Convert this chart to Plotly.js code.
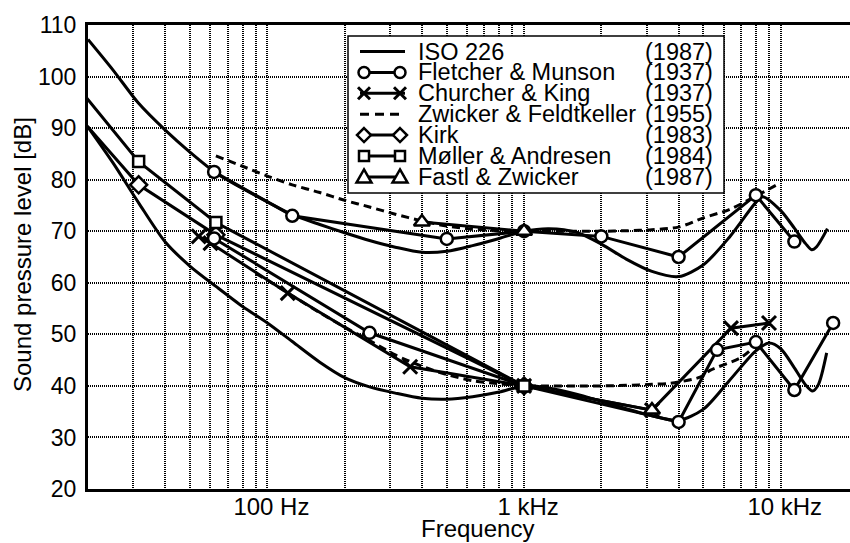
<!DOCTYPE html>
<html><head><meta charset="utf-8">
<script src="https://cdn.plot.ly/plotly-3.0.1.min.js"></script>
<style>html,body{margin:0;padding:0;overflow:hidden;background:#fff;width:850px;height:543px}#chart{width:860px;height:543px}</style>
</head><body><div id="chart"></div><script>
// ---------------- data (Hz, dB SPL) ----------------
const isoFreq70 = [20,25,31.5,40,50,63,80,100,125,160,200,250,315,400,500,630,800,1000,1250,1600,2000,2500,3150,4000,5000,6300,8000,8500,10000,11300,12500,13200,13800,15200];
const isoLvl70  = [107.2,101.3,94.8,89.6,85.3,81.3,78.3,75.7,73.2,71.3,69.7,68.2,66.9,65.9,66.1,67.2,68.6,70.0,70.5,69.8,67.5,64.6,62.2,61.2,63.5,68.8,75.6,76.7,74.0,70.6,67.6,66.4,67.0,70.5];
const isoFreq40 = [20,25,31.5,40,50,63,80,100,125,160,200,250,315,400,500,630,800,1000,1250,1600,2000,2500,3150,4000,5000,6300,8000,9000,10000,11300,12500,13300,14000,15100];
const isoLvl40  = [90.2,83.3,75.5,67.9,63.2,59.3,55.4,52.2,48.6,44.6,41.6,39.8,38.6,37.6,37.4,37.9,38.8,40.0,39.6,38.4,37.0,35.6,34.2,33.3,35.5,41.0,46.8,48.3,47.2,43.5,40.2,39.0,40.2,46.4];

const fmFreq70 = [62,125,500,1000,2000,4000,8000,11300];
const fmLvl70  = [81.5,73.0,68.5,70.0,69.0,65.0,77.0,68.0];
const fmFreq40 = [62,250,1000,4000,5650,8000,11300,16000];
const fmLvl40  = [68.6,50.3,40.0,33.0,47.0,48.5,39.2,52.2];

const ckFreq = [54,60,120,360,1000,3150,6400,9000];
const ckLvl  = [69.0,67.7,58.0,43.7,40.0,35.3,51.2,52.2];

const zfFreq70 = [63,80,100,125,160,200,250,315,400,500,630,800,1000,1250,1600,2000,2500,3150,4000,5000,6300,8000,9660];
const zfLvl70  = [84.6,82.6,80.7,79.0,77.5,76.0,74.7,73.3,72.0,71.0,70.4,70.1,70.0,70.0,70.0,70.0,70.1,70.3,70.8,72.6,74.2,76.8,79.0];
const zfFreq40 = [90,100,125,160,200,250,315,400,500,630,800,1000,1250,1600,2000,2500,3150,3700,4850,5300,7000,7800];
const zfLvl40  = [61.8,60.5,57.5,54.2,51.4,48.8,46.0,43.8,42.2,41.0,40.4,40.0,40.0,40.0,40.0,40.1,40.3,40.5,41.7,43.0,45.5,47.4];

const kirkFreq = [16,31.5,63,1000];
const kirkLvl  = [95.7,79.0,69.3,40.0];
const maFreq   = [16,31.5,63,1000];
const maLvl    = [101.4,83.5,71.7,40.0];

const fzFreq70 = [400,1000];
const fzLvl70  = [71.8,70.0];
const fzFreq40 = [1000,3150];
const fzLvl40  = [40.0,35.3];

const gridFreqs = [30,40,50,60,70,80,90,100,200,300,400,500,600,700,800,900,1000,2000,3000,4000,5000,6000,7000,8000,9000,10000];
const tickLabels = {100:'100 Hz',1000:'1 kHz',10000:'10 kHz'};
const yTicks = [20,30,40,50,60,70,80,90,100,110];

const legendNames = ['ISO 226','Fletcher & Munson','Churcher & King','Zwicker & Feldtkeller','Kirk','Møller & Andresen','Fastl & Zwicker'];
const legendYears = ['(1987)','(1937)','(1937)','(1955)','(1983)','(1984)','(1987)'];
const legendSymbols = [null,'circle','x','dash','diamond','square','triangle'];

// ---------------- styling / layout ----------------
const FONT = 'Liberation Sans, Arial, Helvetica, sans-serif';
const L = 88, T = 25, W = 770, H = 464, FULLW = 860, FULLH = 543;
const BLACK = '#000';
const LW = 3;

function line(x, y, opts) {
  return Object.assign({type:'scatter', mode:'lines', x:x, y:y, hoverinfo:'skip', showlegend:false,
    line:{color:BLACK, width:LW}}, opts || {});
}
function marked(x, y, symbol, size) {
  return {type:'scatter', mode:'lines+markers', x:x, y:y, showlegend:false, hoverinfo:'skip',
    line:{color:BLACK, width:LW},
    marker:{symbol:symbol, size:size, color: symbol.indexOf('x')===0 ? BLACK : '#fff',
            line:{color:BLACK, width: symbol.indexOf('x')===0 ? 3 : 2.5}}};
}
const DASH = '8px,5px';

const traces = [
  line(isoFreq70, isoLvl70, {line:{color:BLACK, width:LW, shape:'spline', smoothing:0.8}}),
  line(isoFreq40, isoLvl40, {line:{color:BLACK, width:LW, shape:'spline', smoothing:0.8}}),
  line(zfFreq70, zfLvl70, {line:{color:BLACK, width:LW, dash:DASH, shape:'spline', smoothing:0.8}}),
  line(zfFreq40, zfLvl40, {line:{color:BLACK, width:LW, dash:DASH, shape:'spline', smoothing:0.8}}),
  marked(kirkFreq, kirkLvl, 'diamond', 13),
  marked(ckFreq, ckLvl, 'x-thin-open', 14),
  marked(fmFreq70, fmLvl70, 'circle', 12),
  marked(fmFreq40, fmLvl40, 'circle', 12),
  marked(fzFreq70, fzLvl70, 'triangle-up', 14),
  marked(fzFreq40, fzLvl40, 'triangle-up', 14),
  marked(maFreq, maLvl, 'square', 11)
];

// pixel -> paper helpers for the hand-drawn legend box
const px = x => (x - L) / W;
const py = y => (T + H - y) / H;

const shapes = [];
const annotations = [];
const LB = {x0:348, x1:724, y0:36, y1:193, row0:51.5, rowStep:20.9, lx0:360, lx1:405, m0:364, m1:400, tx:416, yx:715};
shapes.push({type:'rect', xref:'paper', yref:'paper', x0:px(LB.x0), x1:px(LB.x1), y0:py(LB.y1), y1:py(LB.y0),
  fillcolor:'#fff', line:{color:BLACK, width:1.5}, layer:'above'});

function markerShape(sym, cx, cy) {
  const st = {xref:'paper', yref:'paper', layer:'above', fillcolor:'#fff', line:{color:BLACK, width:2.5}};
  if (sym === 'circle') { const r = 5.5;
    return Object.assign({type:'circle', x0:px(cx-r), x1:px(cx+r), y0:py(cy+r), y1:py(cy-r)}, st); }
  if (sym === 'square') { const r = 5;
    return Object.assign({type:'rect', x0:px(cx-r), x1:px(cx+r), y0:py(cy+r), y1:py(cy-r)}, st); }
  if (sym === 'diamond') { const r = 7;
    return Object.assign({type:'path', path:`M${px(cx)},${py(cy-r)} L${px(cx+r)},${py(cy)} L${px(cx)},${py(cy+r)} L${px(cx-r)},${py(cy)} Z`}, st); }
  if (sym === 'triangle') { const r = 7.5;
    return Object.assign({type:'path', path:`M${px(cx)},${py(cy-r)} L${px(cx+r)},${py(cy+r*0.75)} L${px(cx-r)},${py(cy+r*0.75)} Z`}, st); }
  if (sym === 'x') { const r = 6;
    return Object.assign({}, st, {type:'path', fillcolor:'rgba(0,0,0,0)', line:{color:BLACK, width:3},
      path:`M${px(cx-r)},${py(cy-r)} L${px(cx+r)},${py(cy+r)} M${px(cx-r)},${py(cy+r)} L${px(cx+r)},${py(cy-r)}`}); }
  return null;
}

legendNames.forEach((name, i) => {
  const cy = LB.row0 + i * LB.rowStep;
  const sym = legendSymbols[i];
  shapes.push({type:'line', xref:'paper', yref:'paper', layer:'above', x0:px(LB.lx0), x1:px(LB.lx1), y0:py(cy), y1:py(cy),
    line:{color:BLACK, width:LW, dash: sym === 'dash' ? '9px,6px' : 'solid'}});
  if (sym && sym !== 'dash') { shapes.push(markerShape(sym, LB.m0, cy)); shapes.push(markerShape(sym, LB.m1, cy)); }
  annotations.push({xref:'paper', yref:'paper', x:px(LB.tx), y:py(cy), xanchor:'left', yanchor:'middle', showarrow:false,
    text:name, font:{family:FONT, size:23.5, color:BLACK}});
  annotations.push({xref:'paper', yref:'paper', x:px(LB.yx), y:py(cy), xanchor:'right', yanchor:'middle', showarrow:false,
    text:legendYears[i], font:{family:FONT, size:23.5, color:BLACK}});
});

annotations.push({xref:'paper', yref:'paper', x:px(22), y:py(255), textangle:-90, showarrow:false, xanchor:'center', yanchor:'middle',
  text:'Sound pressure level [dB]', font:{family:FONT, size:24, color:BLACK}});
annotations.push({xref:'paper', yref:'paper', x:px(477), y:py(528), showarrow:false, xanchor:'center', yanchor:'middle',
  text:'Frequency', font:{family:FONT, size:24, color:BLACK}});

const layout = {
  width: FULLW, height: FULLH,
  margin: {l:L, r:FULLW - L - W, t:T, b:FULLH - T - H},
  paper_bgcolor:'#fff', plot_bgcolor:'rgba(0,0,0,0)',
  font:{family:FONT, color:BLACK},
  showlegend:false,
  xaxis:{type:'log', range:[Math.log10(20), Math.log10(20000)], tickmode:'array', tickvals:gridFreqs,
    ticktext: gridFreqs.map(f => tickLabels[f] || ''), ticks:'', tickfont:{size:24, family:FONT, color:BLACK},
    ticklabelstandoff:-6, ticklabelshift:4,
    showgrid:true, gridcolor:BLACK, gridwidth:2, griddash:'1px,1px',
    showline:true, linecolor:BLACK, linewidth:3, mirror:true, zeroline:false, automargin:false},
  yaxis:{range:[20,110], tickmode:'array', tickvals:yTicks, ticks:'', tickfont:{size:23, family:FONT, color:BLACK},
    ticklabelstandoff:4,
    showgrid:true, gridcolor:BLACK, gridwidth:2, griddash:'1px,1px',
    showline:true, linecolor:BLACK, linewidth:3, mirror:true, zeroline:false, automargin:false},
  shapes: shapes,
  annotations: annotations
};

Plotly.newPlot('chart', traces, layout, {staticPlot:true, displayModeBar:false});
</script></body></html>
